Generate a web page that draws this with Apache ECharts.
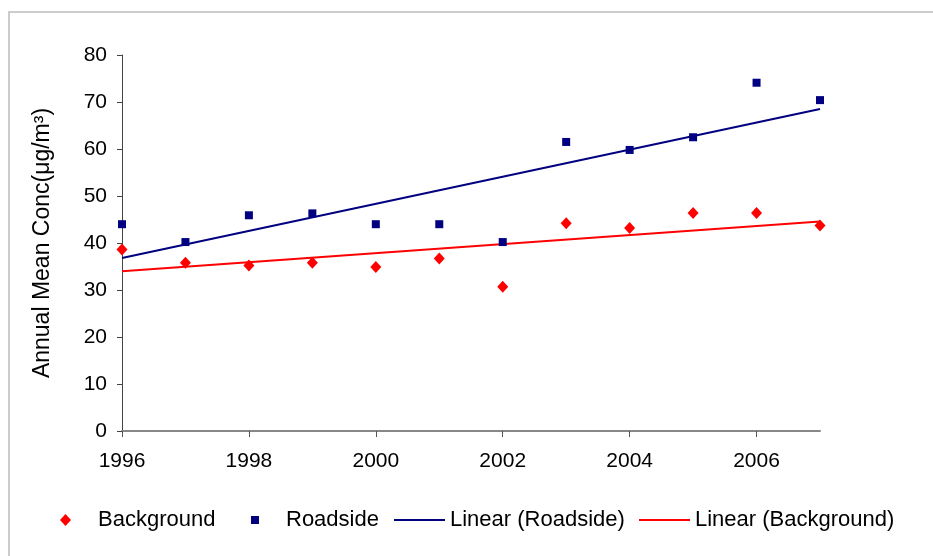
<!DOCTYPE html>
<html>
<head>
<meta charset="utf-8">
<script src="https://cdn.jsdelivr.net/npm/echarts@6/dist/echarts.min.js"></script>
<style>
html,body{margin:0;padding:0;background:#fff;}
#c{width:933px;height:556px;}
</style>
</head>
<body>
<div id="c"></div>
<script>
var years = [1996, 1997, 1998, 1999, 2000, 2001, 2002, 2003, 2004, 2005, 2006, 2007];
var background = [38.6, 35.8, 35.2, 35.8, 34.9, 36.7, 30.7, 44.2, 43.2, 46.4, 46.4, 43.7];
var roadside = [44.0, 40.2, 45.9, 46.3, 44.0, 44.0, 40.2, 61.5, 59.8, 62.5, 74.1, 70.4];
var trendYears = [1996, 2007];
var roadsideTrend = [36.8, 68.5];
var backgroundTrend = [34.0, 44.6];
var xTickLabels = [1996, 1998, 2000, 2002, 2004, 2006];
var yAxisTitle = 'Annual Mean Conc(\u03bcg/m\u00b3)';
var seriesNames = ['Background', 'Roadside', 'Linear (Roadside)', 'Linear (Background)'];

function pairs(xs, ys) { return xs.map(function (x, i) { return [x, ys[i]]; }); }

var FONT = 'Liberation Sans, Arial, sans-serif';
var FS = 21;
function legendText(padLeft) {
  return { fontFamily: FONT, fontSize: 22, color: '#000', padding: [0, 0, 0, padLeft] };
}

var chart = echarts.init(document.getElementById('c'), null, { renderer: 'canvas' });
chart.setOption({
  animation: false,
  backgroundColor: '#fff',
  graphic: [{
    type: 'rect', silent: true, z: -10,
    shape: { x: 9, y: 12, width: 1200, height: 1200 },
    style: { fill: 'none', stroke: '#cccccc', lineWidth: 2 }
  }],
  grid: { left: 122, right: 113, top: 55, bottom: 125, containLabel: false },
  xAxis: {
    type: 'value', min: 1996, max: 2007, interval: 2,
    splitLine: { show: false },
    axisLine: { show: true, onZero: false, lineStyle: { color: '#888888', width: 2 } },
    axisTick: { show: true, length: 6, inside: false, customValues: xTickLabels, lineStyle: { color: '#555', width: 1 } },
    axisLabel: { customValues: xTickLabels, margin: 20, fontFamily: FONT, fontSize: FS, color: '#000',
      formatter: function (v) { return String(v); } }
  },
  yAxis: {
    type: 'value', min: 0, max: 80, interval: 10,
    name: yAxisTitle, nameLocation: 'middle', nameGap: 68,
    nameTextStyle: { fontFamily: FONT, fontSize: 23, color: '#000' },
    splitLine: { show: false },
    axisLine: { show: true, lineStyle: { color: '#444', width: 1 } },
    axisTick: { show: true, length: 5, lineStyle: { color: '#444', width: 1 } },
    axisLabel: { margin: 15, fontFamily: FONT, fontSize: FS, color: '#000' }
  },
  legend: [
    { data: [{ name: seriesNames[0], icon: 'diamond' }], left: 60, top: 509, padding: 0, itemWidth: 11, itemHeight: 12, itemGap: 0, textStyle: legendText(22), selectedMode: false },
    { data: [{ name: seriesNames[1], icon: 'rect' }], left: 251, top: 509, padding: 0, itemWidth: 8, itemHeight: 8, itemGap: 0, textStyle: legendText(22), selectedMode: false },
    { data: [{ name: seriesNames[2], icon: 'rect' }], left: 394, top: 509, padding: 0, itemWidth: 51, itemHeight: 2, itemGap: 0, textStyle: legendText(0), selectedMode: false },
    { data: [{ name: seriesNames[3], icon: 'rect' }], left: 639, top: 509, padding: 0, itemWidth: 51, itemHeight: 2, itemGap: 0, textStyle: legendText(0), selectedMode: false }
  ],
  series: [
    { name: seriesNames[0], type: 'scatter', data: pairs(years, background), symbol: 'diamond', symbolSize: [11, 12], itemStyle: { color: '#ff0000', opacity: 1 }, z: 5 },
    { name: seriesNames[1], type: 'scatter', data: pairs(years, roadside), symbol: 'rect', symbolSize: 8, itemStyle: { color: '#000080', opacity: 1 }, z: 5 },
    { name: seriesNames[2], type: 'line', data: pairs(trendYears, roadsideTrend), showSymbol: false, symbol: 'none', lineStyle: { color: '#000080', width: 2 }, itemStyle: { color: '#000080' }, z: 3 },
    { name: seriesNames[3], type: 'line', data: pairs(trendYears, backgroundTrend), showSymbol: false, symbol: 'none', lineStyle: { color: '#ff0000', width: 2 }, itemStyle: { color: '#ff0000' }, z: 3 }
  ]
});
</script>
</body>
</html>
